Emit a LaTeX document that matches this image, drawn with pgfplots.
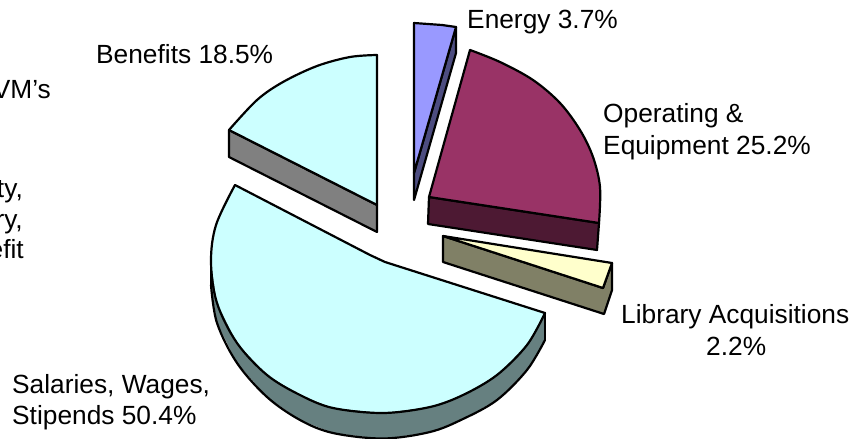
\documentclass[border=0pt]{standalone}
\usepackage{fontspec}
\setmainfont{Liberation Sans}
\usepackage{pgfplots}
\pgfplotsset{compat=1.18}
\definecolor{lightcyan}{HTML}{CCFFFF}
\definecolor{cyanside}{HTML}{668080}
\definecolor{benside}{HTML}{808080}
\definecolor{energy}{HTML}{9999FF}
\definecolor{energyside}{HTML}{4D4D80}
\definecolor{operating}{HTML}{993366}
\definecolor{opside}{HTML}{4D1933}
\definecolor{library}{HTML}{FFFFCC}
\definecolor{libside}{HTML}{808066}
\tikzset{lab/.style={anchor=base west, inner sep=0pt, font=\fontsize{26.4}{32}\selectfont}}
\pgfplotsset{arc/.style={smooth, tension=0.55}}
\begin{document}
\begin{tikzpicture}
\useasboundingbox (0,0) rectangle (856bp,439bp);
\clip (0,0) rectangle (856bp,439bp);
\begin{axis}[
  at={(0,0)}, anchor=south west,
  scale only axis, width=856bp, height=439bp,
  xmin=0, xmax=856, ymin=0, ymax=439, y dir=reverse,
  hide axis,
  every axis plot/.append style={draw=black, line width=2.2bp, line join=round, line cap=round, mark=none},
]
% Benefits 18.5%
\addplot[fill=benside] coordinates {(229,130) (377,205) (377,232) (229,157)} --cycle;
\addplot[fill=lightcyan, draw=none] coordinates {(377,205) (377,55) (350,57) (317,66) (283,82) (257,100) (229,130)} --cycle;
\addplot[arc] coordinates {(377,55) (350,57) (317,66) (283,82) (257,100) (229,130)};
\addplot[draw=black] coordinates {(229,130) (377,205) (377,55)};
% Energy 3.7%
\addplot[fill=energyside] coordinates {(456,27) (456,53) (414,200) (414,173)} --cycle;
\addplot[fill=energy] coordinates {(414,173) (414,23) (428,24) (442,25) (456,27)} --cycle;
% Operating & Equipment 25.2%
\addplot[fill=opside] coordinates {(429,197) (428,224) (597,250) (599,223)} --cycle;
\addplot[fill=operating, draw=none] coordinates {(429,197) (470,50) (500,62) (533,80) (560,103) (580,130) (593,157) (600,187) (599,223)} --cycle;
\addplot[arc] coordinates {(470,50) (500,62) (533,80) (560,103) (580,130) (593,157) (600,187) (599,223)};
\addplot[draw=black] coordinates {(599,223) (429,197) (470,50)};
% Library Acquisitions 2.2%
\addplot[fill=libside] coordinates {(443,236) (443,262) (604,314) (612,290) (612,263) (603,288)} --cycle;
\addplot[fill=library] coordinates {(443,236) (612,263) (603,288)} --cycle;
% Salaries, Wages, Stipends 50.4%
\addplot[fill=cyanside, draw=none] coordinates {(545,313) (545,340) (527,370) (497,400) (463,419) (430,432) (383,439) (333,433) (300,420) (267,397) (237,363) (217,323) (211,285) (211,262)} --cycle;
\addplot[arc] coordinates {(545,340) (527,370) (497,400) (463,419) (430,432) (383,438.5) (333,433) (300,420) (267,397) (237,363) (217,323) (211,285)};
\addplot[draw=black] coordinates {(545,313) (545,340)};
\addplot[draw=black] coordinates {(211,262) (211,285)};
\addplot[fill=lightcyan, draw=none] coordinates {(235,185) (370,255) (385,262) (545,313) (527,345) (497,375) (463,395) (430,407) (383,413) (333,408) (300,395) (267,375) (237,343) (217,303) (211,262) (216,225)} --cycle;
\addplot[arc] coordinates {(545,313) (527,345) (497,375) (463,395) (430,407) (383,413) (333,408) (300,395) (267,375) (237,343) (217,303) (211,262) (216,225) (235,185)};
\addplot[draw=black] coordinates {(235,185) (370,255) (385,262) (545,313)};
% labels
\node[lab] at (axis cs:96,63.5) {Benefits 18.5\%};
\node[lab] at (axis cs:467,28.5) {Energy 3.7\%};
\node[lab] at (axis cs:603,122) {Operating \&};
\node[lab] at (axis cs:603,154) {Equipment 25.2\%};
\node[lab] at (axis cs:621,323) {Library Acquisitions};
\node[lab] at (axis cs:706,355) {2.2\%};
\node[lab] at (axis cs:12,393) {Salaries, Wages,};
\node[lab] at (axis cs:12,424) {Stipends 50.4\%};
\node[lab, anchor=base east] at (axis cs:51,98) {VM’s};
\node[lab, anchor=base east] at (axis cs:23,197) {ty,};
\node[lab, anchor=base east] at (axis cs:23,228) {ry,};
\node[lab, anchor=base east] at (axis cs:24,258) {efit};
\end{axis}
\end{tikzpicture}
\end{document}
